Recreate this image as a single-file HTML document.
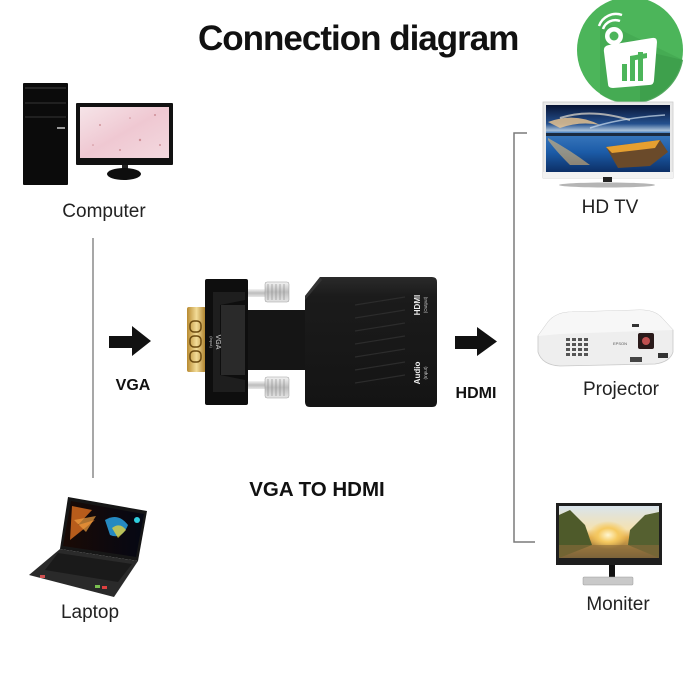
<!DOCTYPE html>
<html><head><meta charset="utf-8"><style>
html,body{margin:0;padding:0;background:#fff;}
svg{display:block;}
</style></head><body>
<svg width="700" height="700" viewBox="0 0 700 700" xmlns="http://www.w3.org/2000/svg">
<defs>
<linearGradient id="tvsky" x1="0" y1="0" x2="0" y2="1">
<stop offset="0" stop-color="#081434"/><stop offset="0.28" stop-color="#24508e"/><stop offset="0.38" stop-color="#a9c0d8"/><stop offset="0.42" stop-color="#3a78bd"/><stop offset="0.7" stop-color="#1c5ca8"/><stop offset="1" stop-color="#0c2f66"/>
</linearGradient>
<linearGradient id="monscr" x1="0" y1="0" x2="0" y2="1">
<stop offset="0" stop-color="#d9e4ec"/><stop offset="0.45" stop-color="#f5e2b0"/><stop offset="0.6" stop-color="#e0a849"/><stop offset="1" stop-color="#6a5a3a"/>
</linearGradient>
<radialGradient id="sun" cx="0.5" cy="0.5" r="0.5">
<stop offset="0" stop-color="#fff6d0"/><stop offset="0.5" stop-color="#f5c960"/><stop offset="1" stop-color="#f5c960" stop-opacity="0"/>
</radialGradient>
<linearGradient id="gold" x1="0" y1="0" x2="1" y2="0">
<stop offset="0" stop-color="#b88a30"/><stop offset="0.5" stop-color="#f3dc98"/><stop offset="1" stop-color="#a77a25"/>
</linearGradient>
<linearGradient id="silver" x1="0" y1="0" x2="0" y2="1">
<stop offset="0" stop-color="#f4f4f4"/><stop offset="0.5" stop-color="#bdbdbd"/><stop offset="1" stop-color="#e6e6e6"/>
</linearGradient>
<linearGradient id="body" x1="0" y1="0" x2="0" y2="1">
<stop offset="0" stop-color="#2a2a2a"/><stop offset="0.15" stop-color="#1b1b1b"/><stop offset="1" stop-color="#141414"/>
</linearGradient>
<linearGradient id="pink" x1="0" y1="0" x2="1" y2="1">
<stop offset="0" stop-color="#f6e4e8"/><stop offset="0.5" stop-color="#efc8d2"/><stop offset="1" stop-color="#f3d9df"/>
</linearGradient>
<linearGradient id="lapscr" x1="0" y1="0" x2="1" y2="0">
<stop offset="0" stop-color="#1a0a05"/><stop offset="1" stop-color="#050814"/>
</linearGradient>
</defs>

<!-- Title -->
<text x="198" y="50" font-family="Liberation Sans, Arial, sans-serif" font-weight="bold" font-size="35" letter-spacing="-1" fill="#111">Connection diagram</text>

<!-- Logo -->
<circle cx="630" cy="50" r="53" fill="#4cb55a"/>
<path d="M600 20 L683 60 A53 53 0 0 1 600 94 Z" fill="#43a650" opacity="0.7"/>
<path d="M640 50 L683 60 A53 53 0 0 1 640 103 Z" fill="#3a9a47" opacity="0.6"/>
<path d="M604 52 Q603 46 609 45 L652 38 Q657 37 657 42 L654 80 Q654 85 649 85 L613 88 Q608 88 608 84 Z" fill="#fff"/>
<circle cx="614" cy="36" r="9" fill="#fff"/>
<circle cx="614" cy="36" r="4.5" fill="#4cb55a"/>
<path d="M603 29 A13 13 0 0 1 620 21" stroke="#fff" stroke-width="2.5" fill="none"/>
<path d="M599 26 A18 18 0 0 1 622 15" stroke="#fff" stroke-width="2.5" fill="none"/>
<rect x="622" y="64" width="5" height="17" fill="#4cb55a"/>
<rect x="630" y="56" width="5" height="25" fill="#4cb55a"/>
<rect x="638" y="52" width="5" height="29" fill="#4cb55a"/>
<path d="M630 56 L647 53 L647 58 L630 61 Z" fill="#4cb55a"/>

<!-- Computer tower -->
<rect x="23" y="83" width="45" height="102" rx="1" fill="#0b0b0b"/>
<line x1="25" y1="88" x2="66" y2="88" stroke="#555" stroke-width="0.8"/>
<line x1="25" y1="103" x2="66" y2="103" stroke="#444" stroke-width="0.8"/>
<line x1="25" y1="117" x2="66" y2="117" stroke="#444" stroke-width="0.8"/>
<rect x="57" y="127" width="8" height="2" fill="#999"/>
<!-- Computer monitor -->
<rect x="76" y="103" width="97" height="62" rx="1" fill="#111"/>
<rect x="80" y="107" width="89" height="51" fill="url(#pink)"/>
<g fill="#b86a70" opacity="0.6">
<circle cx="100" cy="125" r="1"/><circle cx="140" cy="140" r="1.2"/><circle cx="155" cy="115" r="1"/><circle cx="120" cy="150" r="1"/><circle cx="93" cy="145" r="0.8"/><circle cx="160" cy="145" r="1"/><circle cx="130" cy="118" r="0.8"/>
</g>
<rect x="122" y="165" width="6" height="5" fill="#222"/>
<ellipse cx="124" cy="174" rx="17" ry="6" fill="#0e0e0e"/>
<text x="104" y="217" text-anchor="middle" font-family="Liberation Sans, sans-serif" font-size="19" fill="#222">Computer</text>

<!-- left vertical line -->
<line x1="93" y1="238" x2="93" y2="478" stroke="#8a8a8a" stroke-width="1.5"/>

<!-- left arrow -->
<polygon points="109,336 132,336 132,326 151,341 132,356 132,348 109,348" fill="#111"/>
<text x="133" y="390" text-anchor="middle" font-family="Liberation Sans, Arial, sans-serif" font-weight="bold" font-size="16" fill="#111">VGA</text>

<!-- Adapter -->
<rect x="187" y="307" width="19" height="65" rx="2" fill="url(#gold)"/>
<rect x="190" y="321" width="11" height="11" rx="4" fill="none" stroke="#6b4a10" stroke-width="1.5"/>
<rect x="190" y="336" width="11" height="11" rx="4" fill="none" stroke="#6b4a10" stroke-width="1.5"/>
<rect x="190" y="351" width="11" height="11" rx="4" fill="none" stroke="#6b4a10" stroke-width="1.5"/>
<!-- screws -->
<rect x="247" y="289" width="20" height="8" fill="url(#silver)"/>
<rect x="265" y="282" width="24" height="20" rx="2" fill="url(#silver)" stroke="#999" stroke-width="0.5"/>
<rect x="247" y="381" width="20" height="8" fill="url(#silver)"/>
<rect x="265" y="377" width="24" height="21" rx="2" fill="url(#silver)" stroke="#999" stroke-width="0.5"/>
<g stroke="#888" stroke-width="0.6">
<line x1="268" y1="284" x2="268" y2="300"/><line x1="272" y1="284" x2="272" y2="300"/><line x1="276" y1="284" x2="276" y2="300"/><line x1="280" y1="284" x2="280" y2="300"/><line x1="284" y1="284" x2="284" y2="300"/>
<line x1="268" y1="379" x2="268" y2="396"/><line x1="272" y1="379" x2="272" y2="396"/><line x1="276" y1="379" x2="276" y2="396"/><line x1="280" y1="379" x2="280" y2="396"/><line x1="284" y1="379" x2="284" y2="396"/>
</g>
<!-- neck -->
<rect x="245" y="310" width="66" height="60" fill="#151515"/>
<!-- left block -->
<rect x="205" y="279" width="43" height="126" rx="2" fill="#0e0e0e"/>
<path d="M213 292 L245 292 L245 300 L220 305 L220 375 L245 380 L245 392 L213 392 Z" fill="#1e1e1e"/>
<rect x="221" y="305" width="24" height="70" fill="#2a2a2a"/>
<text transform="translate(216,342) rotate(90)" text-anchor="middle" font-family="Liberation Sans, sans-serif" font-size="7" fill="#ddd">VGA</text>
<text transform="translate(210,342) rotate(90)" text-anchor="middle" font-family="Liberation Sans, sans-serif" font-size="4" fill="#ccc">(Input)</text>
<!-- right body -->
<path d="M320 277 L432 277 Q437 277 437 282 L437 402 Q437 407 432 407 L310 407 Q305 407 305 402 L305 296 Z" fill="url(#body)"/>
<path d="M320 277 L305 296 L305 300 L322 280 Z" fill="#333"/>
<g stroke="#2c2c2c" stroke-width="1.2">
<line x1="355" y1="305" x2="405" y2="297"/><line x1="355" y1="318" x2="405" y2="310"/><line x1="355" y1="331" x2="405" y2="323"/><line x1="355" y1="344" x2="405" y2="336"/><line x1="355" y1="357" x2="405" y2="349"/><line x1="355" y1="370" x2="405" y2="362"/><line x1="355" y1="383" x2="405" y2="375"/>
</g>
<text transform="translate(420,305) rotate(-90)" text-anchor="middle" font-family="Liberation Sans, sans-serif" font-weight="bold" font-size="8" fill="#eee">HDMI</text>
<text transform="translate(427,305) rotate(-90)" text-anchor="middle" font-family="Liberation Sans, sans-serif" font-size="4.5" fill="#ccc">(Output)</text>
<text transform="translate(420,373) rotate(-90)" text-anchor="middle" font-family="Liberation Sans, sans-serif" font-weight="bold" font-size="8" fill="#eee">Audio</text>
<text transform="translate(427,373) rotate(-90)" text-anchor="middle" font-family="Liberation Sans, sans-serif" font-size="4.5" fill="#ccc">(Input)</text>

<!-- right arrow -->
<polygon points="455,336 477,336 477,327 497,341.5 477,356 477,349 455,349" fill="#111"/>
<text x="476" y="398" text-anchor="middle" font-family="Liberation Sans, Arial, sans-serif" font-weight="bold" font-size="16" fill="#111">HDMI</text>

<text x="317" y="496" text-anchor="middle" font-family="Liberation Sans, Arial, sans-serif" font-weight="bold" font-size="20.5" fill="#111">VGA TO HDMI</text>

<!-- right bracket -->
<polyline points="527,133 514,133 514,542 535,542" fill="none" stroke="#7a7a7a" stroke-width="1.5"/>

<!-- HD TV -->
<rect x="543" y="102" width="130" height="76" fill="#e9e9e9" stroke="#ccc" stroke-width="0.8"/>
<rect x="546" y="105" width="124" height="67" fill="url(#tvsky)"/>
<path d="M548 122 Q575 112 600 125 Q580 121 560 128 Z" fill="#f0c890" opacity="0.8"/>
<path d="M560 118 Q590 108 630 120" stroke="#e8e0d0" stroke-width="2" fill="none" opacity="0.7"/>
<path d="M590 128 Q620 118 665 115" stroke="#cfe0f0" stroke-width="1.5" fill="none" opacity="0.7"/>
<rect x="546" y="133" width="124" height="3" fill="#1a2a40"/>
<path d="M548 138 Q570 150 590 165 L570 165 Q555 150 548 140 Z" fill="#f2c070" opacity="0.55"/>
<path d="M606 147 L660 140 L668 152 L650 166 L618 168 Z" fill="#6a4a2a"/>
<path d="M606 147 L660 140 L655 148 L612 153 Z" fill="#e6a030"/>
<rect x="543" y="172" width="130" height="6" fill="#f2f2f2"/>
<rect x="603" y="177" width="9" height="5" fill="#222"/>
<ellipse cx="607" cy="185" rx="48" ry="2.5" fill="#b5b5b5"/>
<text x="610" y="213" text-anchor="middle" font-family="Liberation Sans, sans-serif" font-size="19" fill="#222">HD TV</text>

<!-- Projector -->
<path d="M548 322 Q556 312 572 312 L640 310 Q655 310 662 318 L673 330 L673 352 Q670 362 655 364 L560 366 Q542 365 538 352 L538 336 Z" fill="#eeeeee" stroke="#c8c8c8" stroke-width="0.8"/>
<path d="M548 322 Q556 312 572 312 L640 310 Q655 310 662 318 L673 330 L560 334 L538 336 Z" fill="#f7f7f7"/>
<g fill="#555">
<rect x="566" y="338" width="4" height="3"/><rect x="572" y="338" width="4" height="3"/><rect x="578" y="338" width="4" height="3"/><rect x="584" y="338" width="4" height="3"/>
<rect x="566" y="343" width="4" height="3"/><rect x="572" y="343" width="4" height="3"/><rect x="578" y="343" width="4" height="3"/><rect x="584" y="343" width="4" height="3"/>
<rect x="566" y="348" width="4" height="3"/><rect x="572" y="348" width="4" height="3"/><rect x="578" y="348" width="4" height="3"/><rect x="584" y="348" width="4" height="3"/>
<rect x="566" y="353" width="4" height="3"/><rect x="572" y="353" width="4" height="3"/><rect x="578" y="353" width="4" height="3"/><rect x="584" y="353" width="4" height="3"/>
</g>
<rect x="638" y="333" width="16" height="16" rx="2" fill="#2a1a1a"/>
<circle cx="646" cy="341" r="4" fill="#c05050"/>
<rect x="632" y="324" width="7" height="3" fill="#333"/>
<text x="613" y="345" font-family="Liberation Sans, sans-serif" font-size="4" fill="#555">EPSON</text>
<rect x="630" y="357" width="12" height="5" fill="#444"/>
<rect x="658" y="353" width="10" height="5" fill="#333"/>
<text x="621" y="395" text-anchor="middle" font-family="Liberation Sans, sans-serif" font-size="19" fill="#222">Projector</text>

<!-- Monitor -->
<rect x="556" y="503" width="106" height="62" fill="#1e1e1e"/>
<rect x="559" y="506" width="100" height="52" fill="url(#monscr)"/>
<path d="M559 515 L570 510 L585 525 L592 545 L559 558 Z" fill="#4e5a2a"/>
<path d="M659 512 L645 515 L630 530 L628 545 L659 558 Z" fill="#556030"/>
<ellipse cx="608" cy="535" rx="20" ry="14" fill="url(#sun)"/>
<path d="M559 545 L659 545 L659 558 L559 558 Z" fill="#8a6a3a" opacity="0.6"/>
<rect x="609" y="565" width="6" height="12" fill="#111"/>
<rect x="583" y="577" width="50" height="8" rx="1" fill="#c9c9c9" stroke="#999" stroke-width="0.5"/>
<text x="618" y="610" text-anchor="middle" font-family="Liberation Sans, sans-serif" font-size="19" fill="#222">Moniter</text>

<!-- Laptop -->
<polygon points="68,497 147,511 138,561 60,549" fill="#161616"/>
<polygon points="71,501 144,514 136,557 63,546" fill="url(#lapscr)"/>
<path d="M72 506 L92 510 L78 525 L95 520 L70 540 Z" fill="#e07020" opacity="0.8"/>
<path d="M74 520 L96 516 L86 532 Z" fill="#f0a040" opacity="0.7"/>
<path d="M105 520 Q118 512 128 525 Q122 540 110 535 Z" fill="#2aa0e0" opacity="0.85"/>
<path d="M112 528 Q120 522 126 530 L118 538 Z" fill="#e0d040" opacity="0.8"/>
<circle cx="137" cy="520" r="3" fill="#30d0e0"/>
<polygon points="60,549 138,561 114,597 29,575" fill="#2a2a2a"/>
<polygon points="58,553 132,564 118,582 45,570" fill="#1a1a1a"/>
<rect x="95" y="585" width="5" height="3" fill="#7ac050"/>
<rect x="102" y="586" width="5" height="3" fill="#e04040"/>
<rect x="40" y="575" width="5" height="3" fill="#d05050"/>
<text x="90" y="618" text-anchor="middle" font-family="Liberation Sans, sans-serif" font-size="19" fill="#222">Laptop</text>
</svg>
</body></html>
